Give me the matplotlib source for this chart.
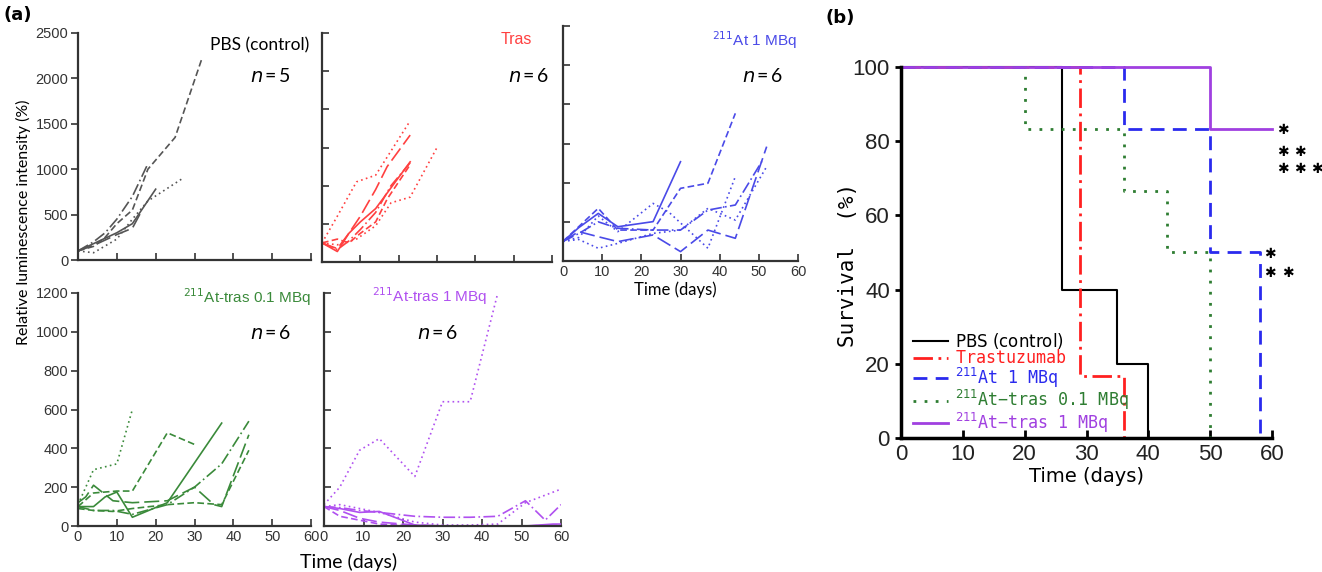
import matplotlib
matplotlib.use('Agg')
import matplotlib.pyplot as plt
from matplotlib import font_manager

names = {f.name for f in font_manager.fontManager.ttflist}
NARROW = 'Liberation Sans Narrow' if 'Liberation Sans Narrow' in names else 'Liberation Sans'
HUMAN = 'Lato'

# ---- (a) relative luminescence, one (days, values) pair per mouse ----
pbs_days = [[0, 4, 10, 14, 20], [0, 4, 10, 14, 16], [0, 4, 7, 10, 14, 18],
            [0, 4, 7, 10, 14, 18, 25, 32], [0, 4, 10, 14, 18, 27]]
pbs_vals = [[100, 180, 300, 400, 780], [100, 160, 280, 350, 510], [100, 200, 300, 450, 700, 1060],
            [100, 150, 250, 400, 550, 1000, 1350, 2230], [100, 80, 230, 450, 650, 900]]
pbs_ls = ['solid', 'long', 'dashdot', 'dash', 'dot']

tras_days = [[0, 4, 7, 10, 14, 23], [0, 4, 7, 10, 14, 17, 23], [0, 4, 9, 14, 17, 23],
             [0, 4, 7, 10, 14, 17, 23], [0, 4, 9, 14, 18, 23, 30], [0, 4, 7, 10, 14, 18, 23]]
tras_vals = [[100, 55, 150, 210, 280, 525], [100, 70, 150, 240, 380, 500, 665],
             [100, 240, 420, 455, 550, 740], [100, 120, 100, 150, 210, 330, 510],
             [100, 90, 120, 190, 310, 340, 600], [100, 65, 110, 170, 260, 400, 520]]
tras_ls = ['solid', 'long', 'dot', 'dash', 'dot', 'dashdot']

at_days = [[0, 4, 9, 14, 23, 30], [0, 4, 9, 14, 23, 30, 37, 44], [0, 4, 9, 14, 23, 27, 37, 44],
           [0, 4, 9, 14, 23, 30, 37, 44, 51], [0, 4, 9, 14, 23, 30, 37, 44, 52],
           [0, 4, 9, 14, 23, 30, 37, 44, 52]]
at_vals = [[100, 170, 243, 175, 201, 507], [100, 175, 269, 158, 158, 371, 397, 754],
           [100, 120, 230, 150, 294, 250, 65, 431], [100, 140, 200, 167, 158, 158, 260, 286, 516],
           [100, 150, 124, 99, 133, 48, 158, 116, 584], [100, 110, 65, 90, 141, 158, 269, 209, 482]]
at_ls = ['solid', 'dash', 'dot', 'dashdot', 'long', 'dot']

atl_days = [[0, 2, 4, 10, 14], [0, 4, 10, 14, 23, 30], [0, 4, 7, 10, 14, 23, 37],
            [0, 2, 4, 9, 14, 23, 30, 35, 37, 44], [0, 4, 9, 14, 23, 30, 37, 44],
            [0, 4, 9, 14, 23, 30, 37, 44]]
atl_vals = [[110, 200, 290, 320, 600], [100, 170, 180, 180, 480, 420], [100, 100, 150, 175, 45, 120, 530],
            [120, 150, 210, 130, 120, 130, 200, 110, 100, 470], [100, 80, 80, 60, 110, 200, 320, 540],
            [90, 80, 75, 90, 110, 120, 110, 390]]
atl_ls = ['dot', 'dash', 'solid', 'long', 'dashdot', 'dash']

ath_days = [[0, 4, 9, 14, 23, 30, 37, 44], [0, 4, 9, 14, 23, 30, 37, 44, 51, 58, 60],
            [0, 4, 9, 14, 23, 30, 37, 44, 51, 60], [0, 4, 9, 14, 23, 30, 37, 44, 51, 56, 60],
            [0, 4, 9, 14, 23, 30, 37, 44, 51, 60], [0, 4, 9, 14, 23, 30, 37, 44]]
ath_vals = [[110, 200, 390, 450, 255, 640, 640, 1200], [100, 90, 70, 75, 5, 0, 0, 0, 0, 10, 10],
            [100, 50, 30, 10, 0, 0, 0, 0, 0, 5], [100, 95, 80, 70, 50, 45, 45, 50, 130, 30, 110],
            [100, 110, 90, 70, 20, 5, 5, 10, 120, 190], [100, 80, 40, 20, 5, 0, 0, 0]]
ath_ls = ['dot', 'solid', 'dash', 'dashdot', 'dot', 'long']

# ---- (b) survival ----
surv_labels = ['PBS (control)$^{\\ }$', 'Trastuzumab$^{\\ }$', '$^{211}$At 1 MBq',
               '$^{211}$At\u2212tras 0.1 MBq', '$^{211}$At\u2212tras 1 MBq']
surv_days = [[0, 26, 35, 40], [0, 29, 36], [0, 36, 50, 58], [0, 20, 36, 43, 50], [0, 50, 60]]
surv_pct = [[100, 40, 20, 0], [100, 16.7, 0], [100, 83.3, 50, 0], [100, 83.3, 66.7, 50, 0],
            [100, 83.3, 83.3]]

W, H = 1322, 572
fig = plt.figure(figsize=(W / 100, H / 100), dpi=100)


def box(l, t, r, b):
    return [l / W, 1 - b / H, (r - l) / W, (b - t) / H]


STY = {'solid': '-', 'long': (0, (9, 3)), 'dash': (0, (4, 2)), 'dot': (0, (1, 2)),
       'dashdot': (0, (7, 2, 1, 2))}


def growth_panel(rect, days, vals, lss, color, ymax, ystep, ylab, xlab, ydir):
    ax = fig.add_axes(rect)
    for d, v, ls in zip(days, vals, lss):
        ax.plot(d, v, color=color, lw=1.2, ls=STY[ls])
    ax.set_xlim(0, 60)
    ax.set_ylim(0, ymax)
    ax.set_xticks(range(0, 61, 10))
    ax.set_yticks(range(0, ymax + 1, ystep))
    for s in ['top', 'right']:
        ax.spines[s].set_visible(False)
    for s in ['left', 'bottom']:
        ax.spines[s].set_linewidth(1.6)
        ax.spines[s].set_color('#333333')
    ax.tick_params(axis='x', direction='in', length=5, width=1.2, color='#333333',
                   labelbottom=xlab, labelsize=10.5, labelcolor='#333333', pad=3,
                   labelfontfamily=NARROW)
    ax.tick_params(axis='y', direction=ydir, length=5, width=1.2, color='#333333',
                   labelleft=ylab, labelsize=10.5, labelcolor='#333333', pad=2,
                   labelfontfamily=NARROW)
    return ax


growth_panel(box(78, 33, 311, 260), pbs_days, pbs_vals, pbs_ls, '#555555', 2500, 500, True, False, 'out')
growth_panel(box(322, 33, 552, 262), tras_days, tras_vals, tras_ls, '#ff4040', 1200, 200, False, False, 'in')
growth_panel(box(563, 26, 798, 261), at_days, at_vals, at_ls, '#4a4ae8', 1200, 200, False, True, 'in')
growth_panel(box(78, 293, 311, 526), atl_days, atl_vals, atl_ls, '#3a8a3a', 1200, 200, True, True, 'out')
growth_panel(box(324, 293, 561, 526), ath_days, ath_vals, ath_ls, '#b050f0', 1200, 200, False, True, 'in')


def ftxt(x, y, s, **kw):
    fig.text(x / W, 1 - y / H, s, **kw)


NTXT = '$\\it{n}$\u2009=\u2009'
ftxt(18, 15, '(a)', fontsize=13, fontweight='bold', ha='center', va='center')
ftxt(840, 18, '(b)', fontsize=13, fontweight='bold', ha='center', va='center')
ftxt(260, 45, 'PBS (control)', fontsize=12.5, ha='center', va='center', family=HUMAN)
ftxt(270, 76, NTXT + '5', fontsize=14, ha='center', va='center', family=HUMAN)
ftxt(516, 40, 'Tras', fontsize=11.5, color='#ff4040', ha='center', va='center', family=NARROW)
ftxt(528, 76, NTXT + '6', fontsize=14, ha='center', va='center', family=HUMAN)
ftxt(754, 40, '$^{211}$At 1 MBq', fontsize=11, color='#4a4ae8', ha='center', va='center', family=NARROW)
ftxt(762, 76, NTXT + '6', fontsize=14, ha='center', va='center', family=HUMAN)
ftxt(247, 297, '$^{211}$At-tras 0.1 MBq', fontsize=11, color='#3a8a3a', ha='center', va='center', family=NARROW)
ftxt(270, 333, NTXT + '6', fontsize=14, ha='center', va='center', family=HUMAN)
ftxt(430, 296, '$^{211}$At-tras 1 MBq', fontsize=11, color='#b050f0', ha='center', va='center', family=NARROW)
ftxt(437, 333, NTXT + '6', fontsize=14, ha='center', va='center', family=HUMAN)
ftxt(23, 222, 'Relative luminescence intensity (%)', fontsize=11.5, rotation=90,
     ha='center', va='center', family=HUMAN)
ftxt(349, 562, 'Time (days)', fontsize=14, ha='center', va='center', family=HUMAN)
ftxt(675, 290, 'Time (days)', fontsize=12, ha='center', va='center', family=HUMAN)

# ---- (b) ----
axb = fig.add_axes(box(901, 67, 1272, 438))
colors = ['black', '#ff2020', '#2a2aee', '#2e7d32', '#a040e0']
lstyles = ['-', (0, (7, 2, 1, 2)), (0, (5, 3)), (0, (1, 3)), '-']
widths = [1.5, 2.0, 2.0, 2.0, 2.0]
for d, p, c, ls, lw, lab in zip(surv_days, surv_pct, colors, lstyles, widths, surv_labels):
    axb.step(d, p, where='post', color=c, ls=ls, lw=lw, label=lab, clip_on=False)
axb.set_xlim(0, 60)
axb.set_ylim(0, 100)
axb.set_xticks(range(0, 61, 10))
axb.set_yticks(range(0, 101, 20))
for s in ['top', 'right']:
    axb.spines[s].set_visible(False)
for s in ['left', 'bottom']:
    axb.spines[s].set_linewidth(2.5)
axb.tick_params(axis='x', direction='in', length=6, width=2, labelsize=16, pad=4,
                labelfontfamily=NARROW, labelcolor='#222222')
axb.tick_params(axis='y', direction='out', length=4, width=2, labelsize=16, pad=4,
                labelfontfamily=NARROW, labelcolor='#222222')
axb.set_xlabel('Time (days)', fontsize=14, labelpad=2)
axb.set_ylabel('Survival  (%)', fontsize=15, family='DejaVu Sans Mono')
axb.yaxis.set_label_coords(-0.116, 0.466)

leg = axb.legend(loc='upper left', bbox_to_anchor=(0.032, 0.288), frameon=False,
                 handlelength=2.1, handletextpad=0.4, labelspacing=-0.1,
                 borderpad=0, borderaxespad=0,
                 prop={'family': 'DejaVu Sans Mono', 'size': 12})
for t, c in zip(leg.get_texts(), colors):
    t.set_color(c)
leg.get_texts()[0].set_fontfamily('DejaVu Sans')

# significance marks, one star per text
star_x = [61.8, 64.5, 67.3]
for y, n in [(83.0, 1), (77.1, 2), (72.5, 3)]:
    for k in range(n):
        axb.text(star_x[k], y, '\u2731', fontsize=10, ha='center', va='center', clip_on=False)
star_x2 = [59.7, 62.6]
for y, n in [(49.6, 1), (44.5, 2)]:
    for k in range(n):
        axb.text(star_x2[k], y, '\u2731', fontsize=10, ha='center', va='center', clip_on=False)

fig.savefig('out.png', dpi=100)
